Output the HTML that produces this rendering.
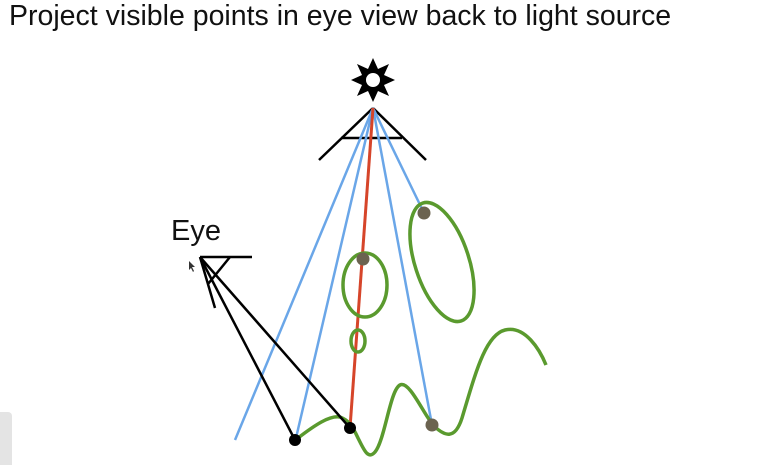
<!DOCTYPE html>
<html><head><meta charset="utf-8"><style>
body{margin:0;width:766px;height:465px;background:#fff;overflow:hidden;position:relative;font-family:"Liberation Sans",sans-serif}
#title{position:absolute;left:9px;top:0px;font-size:28.5px;color:#111;white-space:nowrap}
</style></head><body>
<div id="title">Project visible points in eye view back to light source</div>
<div style="position:absolute;left:0;top:412px;width:12px;height:53px;background:#e4e4e4;border-radius:0 4px 0 0"></div>
<svg width="766" height="465" style="position:absolute;left:0;top:0">
<g>
<polygon fill="#000" points="373,58 378,69 389,64 384,75 395,80 384,85 389,96 378,91 373,102 368,91 357,96 362,85 351,80 362,75 357,64 368,69"/>
<circle cx="373" cy="80" r="7" fill="#fff"/>
</g>
<g stroke="#000" stroke-width="2.5" fill="none">
<line x1="373" y1="108" x2="319" y2="160"/><line x1="373" y1="108" x2="426" y2="160"/><line x1="341" y1="138" x2="402" y2="138"/>
</g>
<g stroke="#6aa6e8" stroke-width="2.5">
<line x1="373" y1="108" x2="235" y2="440"/><line x1="373" y1="108" x2="296" y2="438"/>
<line x1="373" y1="108" x2="424" y2="213"/><line x1="373" y1="108" x2="432" y2="425"/>
</g>
<line x1="373" y1="108" x2="350" y2="428" stroke="#d6452a" stroke-width="3"/>
<g stroke="#5a9a2e" stroke-width="3.5" fill="none">
<ellipse cx="365" cy="285" rx="22" ry="32"/>
<ellipse cx="358" cy="341" rx="7" ry="11"/>
<ellipse cx="442" cy="262" rx="27" ry="62" transform="rotate(-18 442 262)"/>
<path d="M298,438 C315,425 330,415 340,417 C348,420 352,425 358,438 C364,450 368,460 375,452 C385,440 390,390 400,385 C410,380 425,418 435,427 C445,436 455,440 462,418 C475,375 485,335 505,330 C525,325 540,350 546,365"/>
</g>
<g stroke="#000" stroke-width="2.5" fill="none">
<line x1="200" y1="257" x2="252" y2="257"/><line x1="200" y1="257" x2="215" y2="308"/><line x1="230" y1="257" x2="208" y2="284"/>
<line x1="200" y1="257" x2="295" y2="440"/><line x1="200" y1="257" x2="350" y2="428"/>
</g>
<text x="171" y="240" font-size="29" font-family="Liberation Sans, sans-serif" fill="#111">Eye</text>
<circle cx="295" cy="440" r="6" fill="#000"/>
<circle cx="350" cy="428" r="6" fill="#000"/>
<circle cx="363" cy="259" r="6.5" fill="#6b6350"/>
<circle cx="424" cy="213" r="6.5" fill="#6b6350"/>
<circle cx="432" cy="425" r="6.5" fill="#6b6350"/>
<path d="M189,261 l0,9 l2,-2 l2,4 l1,-1 l-2,-4 l3,0 z" fill="#333"/>
</svg>
</body></html>
